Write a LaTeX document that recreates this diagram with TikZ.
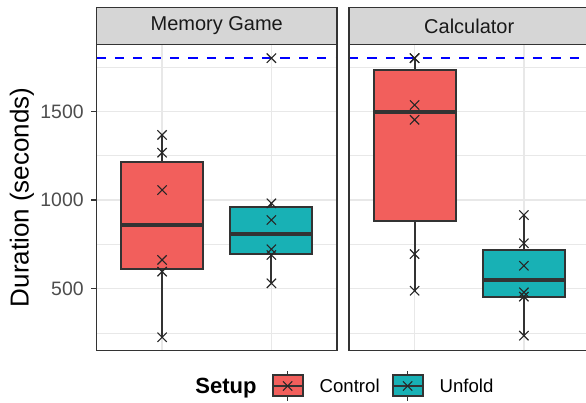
\documentclass[tikz,border=0pt]{standalone}
\usepackage{fontspec}
\setmainfont{Liberation Sans}
\usetikzlibrary{shapes.misc}
\definecolor{ctrl}{RGB}{242,95,92}
\definecolor{unf}{RGB}{24,177,181}
\definecolor{gridgrey}{RGB}{232,232,232}
\definecolor{framegrey}{RGB}{51,51,51}
\definecolor{stripgrey}{RGB}{214,214,214}
\definecolor{ticktext}{RGB}{77,77,77}

\tikzset{
  obs/.style={cross out, draw=black!85, line width=0.55pt, minimum size=4.1pt, inner sep=0pt},
  boxline/.style={draw=framegrey, line width=1pt},
  medline/.style={draw=framegrey, line width=2pt},
}

\begin{document}
\begin{tikzpicture}[x=0.5pt, y=0.5pt]
    \clip (0,0) rectangle (586,403);
    \fill[white] (0,0) rectangle (586,403);

    % data part: x in pixels, y in seconds
    \begin{scope}[yshift=12.85pt, y=0.08865pt]
    % Panels with grid, strip and cut-off line
    \foreach \l/\r/\a/\b/\t [count=\k] in {96.5/337/162.1/271.4/Memory Game, 349/589.5/414.6/523.9/Calculator} {
        \foreach \v in {250,750,1250,1750}
            \draw[gridgrey, line width=0.45pt] (\l,\v) -- (\r,\v);
        \foreach \v in {500,1000,1500}
            \draw[gridgrey, line width=0.8pt] (\l,\v) -- (\r,\v);
        \draw[gridgrey, line width=0.8pt] (\a,151) -- (\a,1878);
        \draw[gridgrey, line width=0.8pt] (\b,151) -- (\b,1878);
        \draw[blue, line width=1pt, dash pattern=on 4.6pt off 4.6pt] (\l,1800) -- (\r,1800);
        \draw[framegrey, line width=0.7pt] (\l,151) rectangle (\r,1878);
        \draw[fill=stripgrey, draw=framegrey, line width=0.7pt] (\l,1878) rectangle (\r,2087);
        \node[font=\fontsize{10}{12}\selectfont, text=black!90] (strip\k) at ({(\l+\r)/2},1982) {\t};
    }

    % Boxes: x / lower whisker / q1 / median / q3 / upper whisker / fill
    \foreach \x/\lo/\qa/\me/\qb/\hi/\c in {162.1/226/612/859/1214/1367/ctrl, 271.4/530/696/806/958/981/unf,
                                          414.6/488/884/1496/1734/1800/ctrl, 523.9/235/452/551/716/915/unf} {
        \draw[boxline] (\x,\lo) -- (\x,\qa);
        \draw[boxline] (\x,\qb) -- (\x,\hi);
        \draw[boxline, fill=\c] (\x-41,\qa) rectangle (\x+41,\qb);
        \draw[medline] (\x-41,\me) -- (\x+41,\me);
    }

    % Observations
    \foreach \v [count=\i] in {1367,1267,1056,662,596,226}
        \node[obs] (mgc\i) at (162.1,\v) {};
    \foreach \v [count=\i] in {1800,981,887,722,690,530}
        \node[obs] (mgu\i) at (271.4,\v) {};
    \foreach \v [count=\i] in {1800,1800,1536,1452,695,488}
        \node[obs] (cac\i) at (414.6,\v) {};
    \foreach \v [count=\i] in {915,756,629,479,455,235}
        \node[obs] (cau\i) at (523.9,\v) {};

    % y axis
    \foreach \v in {500,1000,1500} {
        \draw[framegrey, line width=0.6pt] (91.5,\v) -- (96.5,\v);
        \node[anchor=east, inner sep=0pt, font=\fontsize{9.7}{11}\selectfont, text=ticktext] (tick\v) at (84,\v) {\v};
    }
    \node[rotate=90, font=\fontsize{13}{15}\selectfont] (ytitle) at (22,1015) {Duration (seconds)};
    \end{scope}

    % Legend
    \node[anchor=base west, inner sep=0pt, font=\fontsize{11}{13}\selectfont\bfseries] (legtitle) at (195,9) {Setup};
    \foreach \x/\c/\t in {272.7/ctrl/Control, 392.7/unf/Unfold} {
        \draw[framegrey, line width=0.8pt] (\x+15,2) -- (\x+15,31.7);
        \draw[framegrey, line width=0.9pt, fill=\c] (\x,6.7) rectangle (\x+30,27.7);
        \draw[framegrey, line width=1.4pt] (\x,17) -- (\x+30,17);
        \node[obs] (key\t) at (\x+15,17) {};
        \node[anchor=base west, inner sep=0pt, font=\fontsize{9.3}{11}\selectfont] (lab\t) at (\x+46.6,10.2) {\t};
    }
\end{tikzpicture}
\end{document}
